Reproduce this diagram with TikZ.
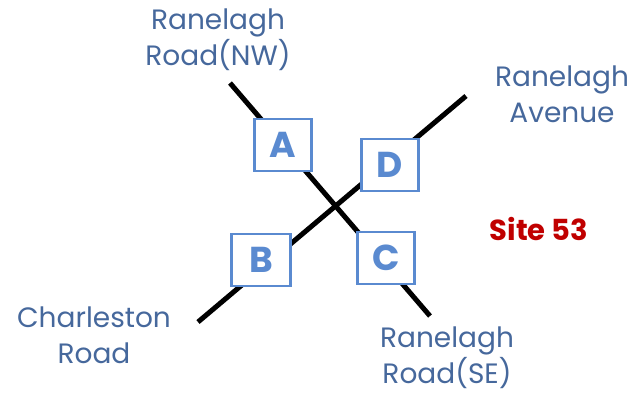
\documentclass[tikz,border=0pt]{standalone}
\usepackage{fontspec}
\setmainfont{Poppins}
\definecolor{lbl}{HTML}{46689C}
\definecolor{boxc}{HTML}{5A8AD0}
\definecolor{sitec}{HTML}{C00000}
\begin{document}
\begin{tikzpicture}[x=1pt,y=-1pt,
  road/.style={line width=5pt,black},
  lbox/.style={draw=boxc,line width=2.6pt,fill=white,minimum width=57pt,minimum height=52pt,inner sep=0pt,
    text=boxc,font=\fontsize{36}{36}\selectfont\bfseries},
  lab/.style={text=lbl,align=center,font=\fontsize{28}{36}\selectfont,inner sep=0pt}]
\useasboundingbox (0,0) rectangle (640,394);
\coordinate (nw) at (230,83);
\coordinate (se) at (430,316);
\coordinate (sw) at (198,322);
\coordinate (ne) at (466,96);
\draw[road] (nw) -- (se);
\draw[road] (sw) -- (ne);
\node[lbox] (A) at (283,145) {A};
\node[lbox] (D) at (390,165) {D};
\node[lbox,minimum width=59pt] (B) at (261,260) {B};
\node[lbox] (C) at (386,258) {C};
\node[lab] (lnw) at (218,40) {Ranelagh\\Road(NW)};
\node[lab] (lne) at (562,94) {Ranelagh\\Avenue};
\node[lab] (lsw) at (94,335) {Charleston\\Road};
\node[lab] (lse) at (447,358) {Ranelagh\\Road(SE)};
\node[text=sitec,font=\fontsize{29}{29}\selectfont\bfseries,inner sep=0pt] (site) at (539,229) {Site 53};
\end{tikzpicture}
\end{document}
